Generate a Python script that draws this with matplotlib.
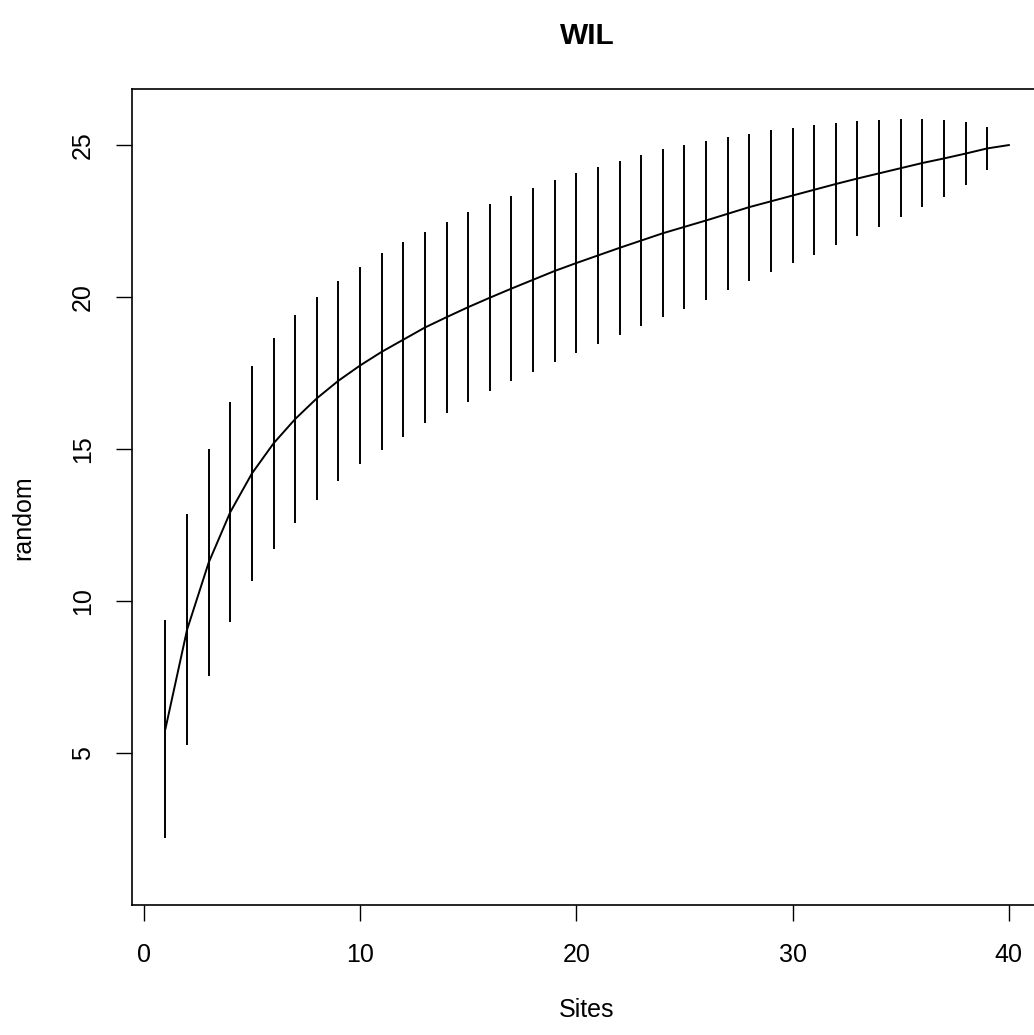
import matplotlib
matplotlib.use("Agg")
import matplotlib.pyplot as plt
import numpy as np

plt.rcParams["font.family"] = ["Liberation Sans", "DejaVu Sans"]

# species accumulation (random method): mean richness and sd per number of sites
sites = list(range(1, 41))
richness = [5.80, 9.06, 11.27, 12.93, 14.20, 15.19, 15.99, 16.67, 17.25, 17.75,
            18.20, 18.60, 19.00, 19.34, 19.67, 19.98, 20.28, 20.57, 20.86, 21.12,
            21.37, 21.62, 21.86, 22.10, 22.31, 22.52, 22.74, 22.96, 23.15, 23.34,
            23.53, 23.72, 23.90, 24.07, 24.24, 24.41, 24.56, 24.72, 24.89, 25.00]
sd = [1.79, 1.90, 1.87, 1.81, 1.77, 1.73, 1.705, 1.67, 1.645, 1.625,
      1.62, 1.60, 1.575, 1.57, 1.56, 1.54, 1.52, 1.51, 1.50, 1.48,
      1.46, 1.43, 1.40, 1.38, 1.345, 1.31, 1.255, 1.21, 1.17, 1.115,
      1.07, 1.005, 0.945, 0.88, 0.805, 0.72, 0.63, 0.52, 0.36, 0.0]
xticks = [0, 10, 20, 30, 40]
yticks = [5, 10, 15, 20, 25]

W, H = 1034, 1035
fig = plt.figure(figsize=(W / 100, H / 100), dpi=100)
ax = fig.add_axes([131.7 / W, 130 / H, (1042.6 - 131.7) / W, 816 / H])

x = np.array(sites)
m = np.array(richness)
s = np.array(sd)
keep = s > 0
ax.vlines(x[keep], (m - 2 * s)[keep], (m + 2 * s)[keep], color="black", lw=1.4)
ax.plot(x, m, color="black", lw=1.4)

# R-style 4% padding around [1, 40] and [1, max upper]
ax.set_xlim(1 - 0.04 * 39, 40 + 0.04 * 39)
ax.set_ylim(1 - 0.04 * 24.85, 25.85 + 0.04 * 24.85)
ax.set_xticks(xticks)
ax.set_yticks(yticks)
ax.set_yticklabels([str(v) for v in yticks], rotation=90, va="center")
ax.tick_params(length=11.5, width=1.0, labelsize=18, pad=16, color="black")
ax.tick_params(axis="y", pad=15)
for sp in ax.spines.values():
    sp.set_linewidth(1.2)

fig.text(587 / W, 1 - 36 / H, "WIL", ha="center", va="center",
         fontsize=21.5, fontweight="bold")
fig.text(587 / W, 1 - 1010 / H, "Sites", ha="center", va="center", fontsize=18)
fig.text(23 / W, 1 - 518 / H, "random", ha="center", va="center",
         fontsize=18, rotation=90)

fig.savefig("out.png", dpi=100)
